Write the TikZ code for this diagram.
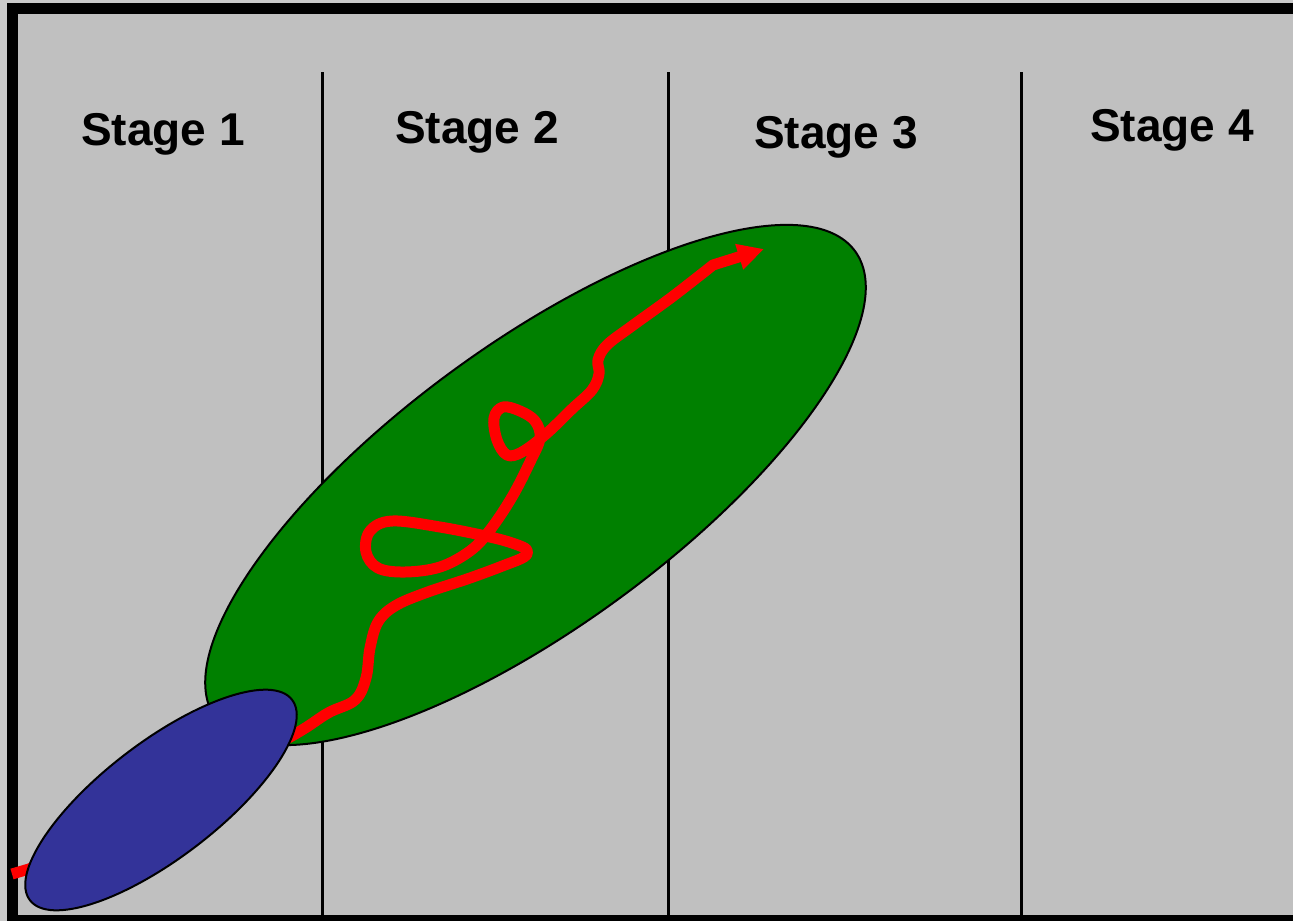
\documentclass[tikz,border=0pt]{standalone}
\usepackage{fontspec}
\setmainfont{Liberation Sans}
\usetikzlibrary{shapes.geometric,arrows.meta}
\definecolor{panel}{HTML}{C0C0C0}
\definecolor{rim}{HTML}{CACACA}
\definecolor{poolgreen}{HTML}{008000}
\definecolor{seedblue}{HTML}{333399}
\definecolor{trail}{HTML}{FF0000}
\begin{document}
\begin{tikzpicture}[x=1pt,y=-1pt,
  stagelabel/.style={anchor=base, font=\fontsize{46}{50}\selectfont\bfseries, text=black, inner sep=0},
  divider/.style={line width=2.5pt, draw=black},
  blob/.style={ellipse, draw=black, line width=2pt, inner sep=0, outer sep=0},
  trailline/.style={draw=trail, line width=11pt, line join=round}]

% canvas and frame
\useasboundingbox (0,0) rectangle (1293,921);
\fill[rim] (0,0) rectangle (1293,921);
\fill[panel] (18,14) rectangle (1293,915);
\fill[black] (7,3) rectangle (1293,14);
\fill[black] (7,3) rectangle (18,921);
\fill[black] (7,915) rectangle (1293,921);

% stage dividers
\coordinate (d1t) at (322.5,72); \coordinate (d1b) at (322.5,915);
\coordinate (d2t) at (668.5,72); \coordinate (d2b) at (668.5,915);
\coordinate (d3t) at (1021.5,72); \coordinate (d3b) at (1021.5,915);
\draw[divider] (d1t) -- (d1b);
\draw[divider] (d2t) -- (d2b);
\draw[divider] (d3t) -- (d3b);

% stage titles
\node[stagelabel] (s1) at (163,145) {Stage 1};
\node[stagelabel] (s2) at (477,143) {Stage 2};
\node[stagelabel] (s3) at (836,148) {Stage 3};
\node[stagelabel] (s4) at (1172,141) {Stage 4};

% large region
\node[blob, fill=poolgreen, minimum width=792pt, minimum height=282pt, rotate=36.2] (pool) at (535.5,485) {};

% the wandering path
\coordinate (start) at (12,874);
\coordinate (goal) at (764,249);
\draw[trailline, -{Triangle[length=26pt,width=25pt]}] (start) -- plot[smooth, tension=0.6] coordinates {
  (29,869) (120,826) (230,770) (297,733) (328,713) (355,700) (366,678)
  (370,648) (378,622) (395,606) (425,593) (470,578) (505,565) (524,557)
  (527,550) (515,544) (490,537) (440,527) (392,521) (370,531) (366,552)
  (378,568) (405,572) (440,567) (470,551) (490,530) (512,497) (530,462)
  (540,438) (535,421) (520,411) (503,407) (494,418) (497,440) (507,455)
  (522,452) (546,434) (572,409) (592,390) (599,374) (598,360) (607,345)
  (632,326) (672,297) (713,265)} -- (goal);

% small starting region
\node[blob, fill=seedblue, minimum width=330pt, minimum height=116pt, rotate=37.4] (seed) at (161,800) {};
\end{tikzpicture}
\end{document}
